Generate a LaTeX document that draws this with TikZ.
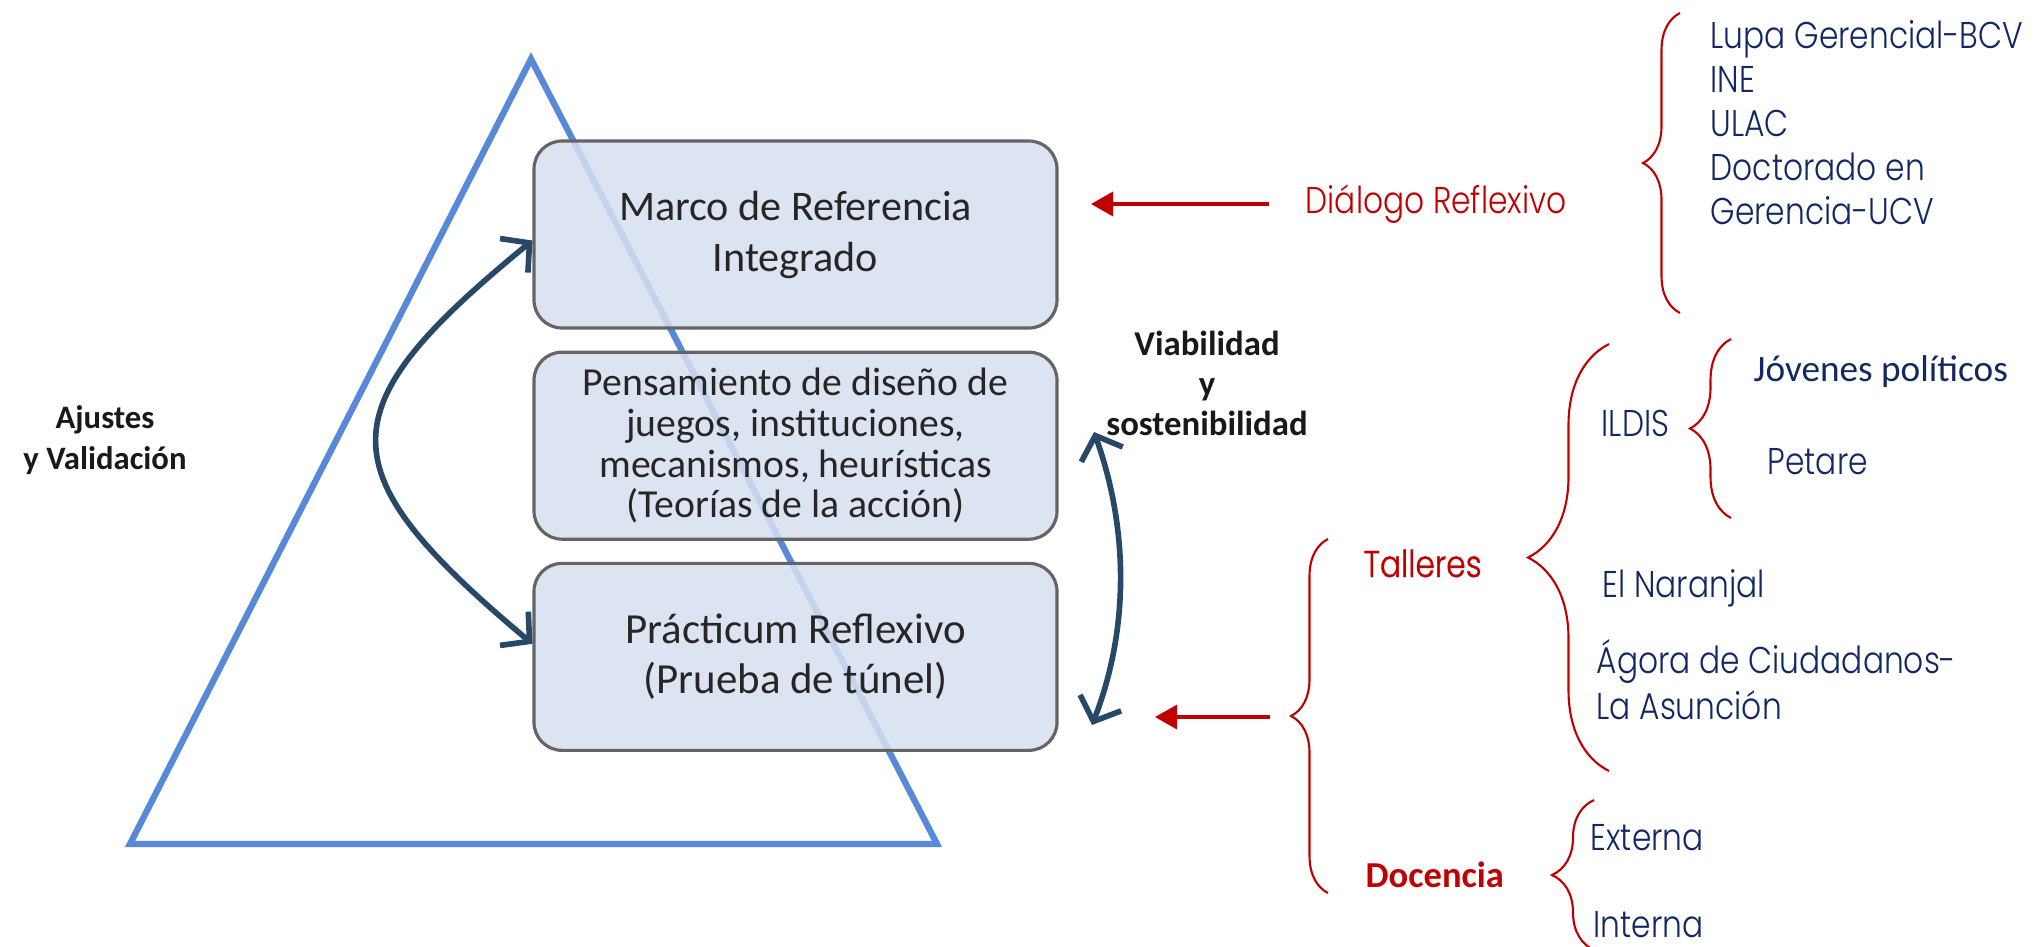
\documentclass[tikz,border=0pt]{standalone}
\usepackage{fontspec}
\setmainfont{Carlito}
\newfontfamily\gothfont[FakeStretch=0.84]{Poppins Light}
\usetikzlibrary{positioning,arrows.meta,decorations.pathreplacing}

\definecolor{boxfill}{RGB}{214,223,239}
\definecolor{boxline}{RGB}{100,100,100}
\definecolor{triblue}{RGB}{88,137,216}
\definecolor{arrdark}{RGB}{40,72,104}
\definecolor{dred}{RGB}{192,0,0}
\definecolor{navy}{RGB}{18,40,100}

\tikzset{
  stage/.style={draw=boxline, line width=0.9pt, fill=boxfill, fill opacity=0.86, text opacity=1,
    rounded corners=0.28cm, minimum width=5.23cm, minimum height=1.87cm, align=center,
    text=black!85, inner sep=0pt},
  sidelabel/.style={align=center, text=black!90},
  listtx/.style={font=\gothfont\fontsize{10.6}{12}\selectfont, text=navy, anchor=base west, inner sep=0pt},
  redlabel/.style={font=\gothfont\fontsize{10.6}{12}\selectfont, text=dred, anchor=base west, inner sep=0pt},
  redbrace/.style={draw=dred, line width=0.6pt, decorate, decoration={brace, amplitude=#1}},
  redarrow/.style={draw=dred, line width=1pt, -{Triangle[length=2.2mm,width=2.4mm]}},
  bendarrow/.style={draw=arrdark, line width=1.6pt,
    {Straight Barb[length=2mm,width=4.4mm]}-{Straight Barb[length=2mm,width=4.4mm]}},
}

\begin{document}
\begin{tikzpicture}
\useasboundingbox (0,0) rectangle (20.41,-9.46);

% triangle behind the stages
\draw[triblue, line width=1.8pt, line join=miter] (5.31,-0.59) -- (9.37,-8.44) -- (1.30,-8.44) -- cycle;

% stages
\node[stage, font=\fontsize{12}{14.5}\selectfont] (marco) at (7.955,-2.345) {Marco de Referencia\\Integrado};
\node[stage, below=0.21cm of marco, font=\fontsize{11.3}{11.6}\selectfont] (pensa)
  {Pensamiento de diseño de\\juegos, instituciones,\\mecanismos, heurísticas\\(Teorías de la acción)};
\node[stage, below=0.21cm of pensa, font=\fontsize{12.2}{14.3}\selectfont] (practi) {Prácticum Reflexivo\\(Prueba de túnel)};

\draw[bendarrow] ([yshift=-0.06cm]marco.west) .. controls (3.25,-4.10) and (3.25,-4.70) .. ([yshift=0.13cm]practi.west);

\node[sidelabel, font=\bfseries\fontsize{9.3}{11.7}\selectfont] (ajustes) at (1.05,-4.40) {Ajustes\\y Validación};
\node[sidelabel, font=\bfseries\fontsize{9.9}{11.4}\selectfont] (viab) at (12.07,-3.83) {Viabilidad\\y\\sostenibilidad};

\coordinate (vtop) at (10.94,-4.32);
\coordinate (vbot) at (10.92,-7.25);
\draw[bendarrow] (vtop) .. controls (11.29,-5.30) and (11.29,-6.30) .. (vbot);

% dialogo
\node[redlabel] (dialogo) at (13.05,-2.13) {Diálogo Reflexivo};
\coordinate (r1a) at (12.69,-2.04);
\coordinate (r1b) at (10.91,-2.04);
\draw[redarrow] (r1a) -- (r1b);

\coordinate (b1t) at (16.80,-0.13);
\coordinate (b1b) at (16.80,-3.13);
\draw[redbrace=0.37cm] (b1b) -- (b1t);
\node[listtx] (lupa) at (17.10,-0.48) {Lupa Gerencial-BCV};
\node[listtx] (ine) at (17.10,-0.92) {INE};
\node[listtx] (ulac) at (17.10,-1.36) {ULAC};
\node[listtx] (doct) at (17.10,-1.80) {Doctorado en};
\node[listtx] (geren) at (17.10,-2.24) {Gerencia-UCV};

% talleres y docencia
\coordinate (r2a) at (12.70,-7.17);
\coordinate (r2b) at (11.55,-7.17);
\draw[redarrow] (r2a) -- (r2b);

\coordinate (b2t) at (13.28,-5.39);
\coordinate (b2b) at (13.28,-8.93);
\draw[redbrace=0.37cm] (b2b) -- (b2t);
\node[redlabel, font=\gothfont\fontsize{10.6}{12}\selectfont\addfontfeature{FakeBold=1}] (talleres) at (13.63,-5.77) {Talleres};
\node[redlabel, font=\bfseries\fontsize{10.4}{12}\selectfont] (docencia) at (13.65,-8.87) {Docencia};

\coordinate (b3t) at (16.09,-3.44);
\coordinate (b3b) at (16.09,-7.71);
\draw[redbrace=0.81cm] (b3b) -- (b3t);
\node[listtx] (ildis) at (16.01,-4.36) {ILDIS};
\node[listtx] (naranjal) at (16.02,-5.97) {El Naranjal};
\node[listtx] (agora) at (15.96,-6.73) {Ágora de Ciudadanos-};
\node[listtx] (asuncion) at (15.96,-7.19) {La Asunción};

\coordinate (b4t) at (17.31,-3.39);
\coordinate (b4b) at (17.31,-5.18);
\draw[redbrace=0.41cm] (b4b) -- (b4t);
\node[listtx, font=\fontsize{10.6}{12}\selectfont] (jovenes) at (17.53,-3.81) {Jóvenes políticos};
\node[listtx] (petare) at (17.67,-4.74) {Petare};

\coordinate (b5t) at (15.94,-8.00);
\coordinate (b5b) at (15.94,-9.50);
\draw[redbrace=0.42cm] (b5b) -- (b5t);
\node[listtx] (externa) at (15.90,-8.50) {Externa};
\node[listtx] (interna) at (15.93,-9.37) {Interna};
\end{tikzpicture}
\end{document}
